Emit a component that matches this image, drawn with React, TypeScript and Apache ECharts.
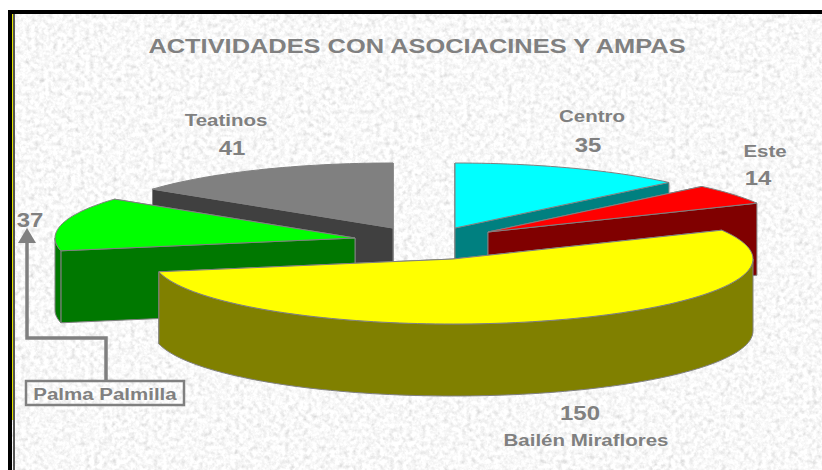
import React, { useEffect, useRef } from "react";
import * as echarts from "echarts";

const categories = ["Centro", "Este", "Bailén Miraflores", "Palma Palmilla", "Teatinos"];
const values = [35, 14, 150, 37, 41];
const chartTitle = "ACTIVIDADES CON ASOCIACINES Y AMPAS";

// Presentation of each slice, in the order of the categories
const topColors = ["#00ffff", "#ff0000", "#ffff00", "#00ff00", "#808080"];
const sideColors = ["#008080", "#800000", "#808000", "#007800", "#404040"];
const explodedCentres = [[455, 228], [488, 232], [453, 259], [355, 238], [393, 228]];
const paintOrder = [4, 0, 3, 1, 2];
const RX = 300;
const RY = 65;
const DEPTH = 72;
const LINE = "#808080";

const total = values.reduce((a, b) => a + b, 0);
const startShare = values.map((_, i) => values.slice(0, i).reduce((a, b) => a + b, 0) / total);

const noise =
  "url(\"data:image/svg+xml;utf8," +
  encodeURIComponent(
    `<svg xmlns='http://www.w3.org/2000/svg' width='822' height='470'><filter id='n' x='0' y='0' width='100%' height='100%'><feTurbulence type='fractalNoise' baseFrequency='0.22' numOctaves='3' seed='7'/><feColorMatrix type='matrix' values='0.38 0.38 0 0 0.56  0.38 0.38 0 0 0.56  0.38 0.38 0 0 0.56  0 0 0 0 1'/></filter><rect width='822' height='470' filter='url(#n)'/></svg>`
  ) +
  "\")";

function arcPoints(cx: number, cy: number, a0: number, a1: number, dy = 0) {
  const steps = Math.max(2, Math.ceil(Math.abs(a1 - a0) / 0.03));
  const pts: number[][] = [];
  for (let i = 0; i <= steps; i++) {
    const a = a0 + ((a1 - a0) * i) / steps;
    pts.push([cx + RX * Math.sin(a), cy - RY * Math.cos(a) + dy]);
  }
  return pts;
}

function renderSlice(_params: any, api: any) {
  const idx = api.value(0) as number;
  const v = api.value(1) as number;
  const [cx, cy] = explodedCentres[idx];
  const a0 = startShare[idx] * Math.PI * 2;
  const a1 = a0 + (v / total) * Math.PI * 2;
  const side = { fill: sideColors[idx], stroke: LINE, lineWidth: 1 };
  const face = (p: number[]) => ({
    type: "polygon",
    shape: { points: [[cx, cy], p, [p[0], p[1] + DEPTH], [cx, cy + DEPTH]] },
    style: side,
  });
  const top = arcPoints(cx, cy, a0, a1);
  const first = top[0];
  const last = top[top.length - 1];
  // The radial face nearer the viewer is painted after the far one
  const onRight = (a0 + a1) / 2 < Math.PI;
  const children: any[] = onRight ? [face(first), face(last)] : [face(last), face(first)];
  // The outer wall is only seen on the near half of the ellipse
  const w0 = Math.max(a0, Math.PI / 2);
  const w1 = Math.min(a1, (3 * Math.PI) / 2);
  if (w1 > w0) {
    const upper = arcPoints(cx, cy, w0, w1);
    const lower = arcPoints(cx, cy, w0, w1, DEPTH).reverse();
    children.push({ type: "polygon", shape: { points: [...upper, ...lower] }, style: side });
  }
  children.push({
    type: "polygon",
    shape: { points: [[cx, cy], ...top] },
    style: { fill: topColors[idx], stroke: LINE, lineWidth: 1 },
  });
  return { type: "group", children };
}

const FONT = "'Liberation Sans', Arial, sans-serif";
const label = (text: string, x: number, y: number, size: number, stretch: number) => ({
  type: "text",
  x,
  y,
  scaleX: stretch,
  style: {
    text,
    fill: LINE,
    font: `bold ${size}px ${FONT}`,
    textAlign: "center",
    textVerticalAlign: "middle",
  },
});

const rect = (x: number, y: number, width: number, height: number, fill: string) => ({
  type: "rect",
  shape: { x, y, width, height },
  style: { fill },
  silent: true,
});

export default function App() {
  const ref = useRef<HTMLDivElement>(null);
  useEffect(() => {
    document.body.style.margin = "0";
    document.body.style.background = "#fff";
    const chart = echarts.init(ref.current!, null, { renderer: "svg" });
    chart.setOption({
      animation: false,
      series: [
        {
          type: "custom",
          coordinateSystem: "none",
          renderItem: renderSlice,
          data: paintOrder.map((i) => [i, values[i]]),
          silent: true,
        },
      ],
      graphic: [
        rect(8, 10, 814, 4, "#000"),
        rect(8, 10, 4, 460, "#000"),
        rect(12, 14, 1, 406, "#e8e800"),
        rect(13, 14, 2, 456, "#555"),
        label(chartTitle, 417, 46, 20, 1.27),
        label(categories[4], 226, 120, 16, 1.28),
        label(String(values[4]), 232, 148, 21, 1.14),
        label(categories[0], 592, 116, 16, 1.28),
        label(String(values[0]), 588, 145, 21, 1.14),
        label(categories[1], 765, 151, 16, 1.28),
        label(String(values[1]), 758, 178, 21, 1.14),
        label(String(values[3]), 30, 220, 21, 1.14),
        label(String(values[2]), 580, 413, 21, 1.14),
        label(categories[2], 586, 440, 16, 1.28),
        label(categories[3], 105, 394, 16, 1.28),
        {
          type: "rect",
          shape: { x: 26, y: 381, width: 158, height: 24 },
          style: { fill: "transparent", stroke: LINE, lineWidth: 2.5 },
        },
        {
          type: "polyline",
          shape: { points: [[106, 381], [106, 338], [27, 338], [27, 240]] },
          style: { fill: "none", stroke: LINE, lineWidth: 3.5 },
        },
        {
          type: "polygon",
          shape: { points: [[27, 228], [18, 243], [36, 243]] },
          style: { fill: LINE },
        },
      ],
    });
    return () => chart.dispose();
  }, []);
  return (
    <div style={{ position: "fixed", left: 0, top: 0, width: 822, height: 470, background: "#fff", overflow: "hidden" }}>
      <div style={{ position: "absolute", left: 8, top: 10, width: 814, height: 460, backgroundImage: noise }} />
      <div ref={ref} style={{ position: "absolute", left: 0, top: 0, width: 822, height: 470 }} />
    </div>
  );
}
